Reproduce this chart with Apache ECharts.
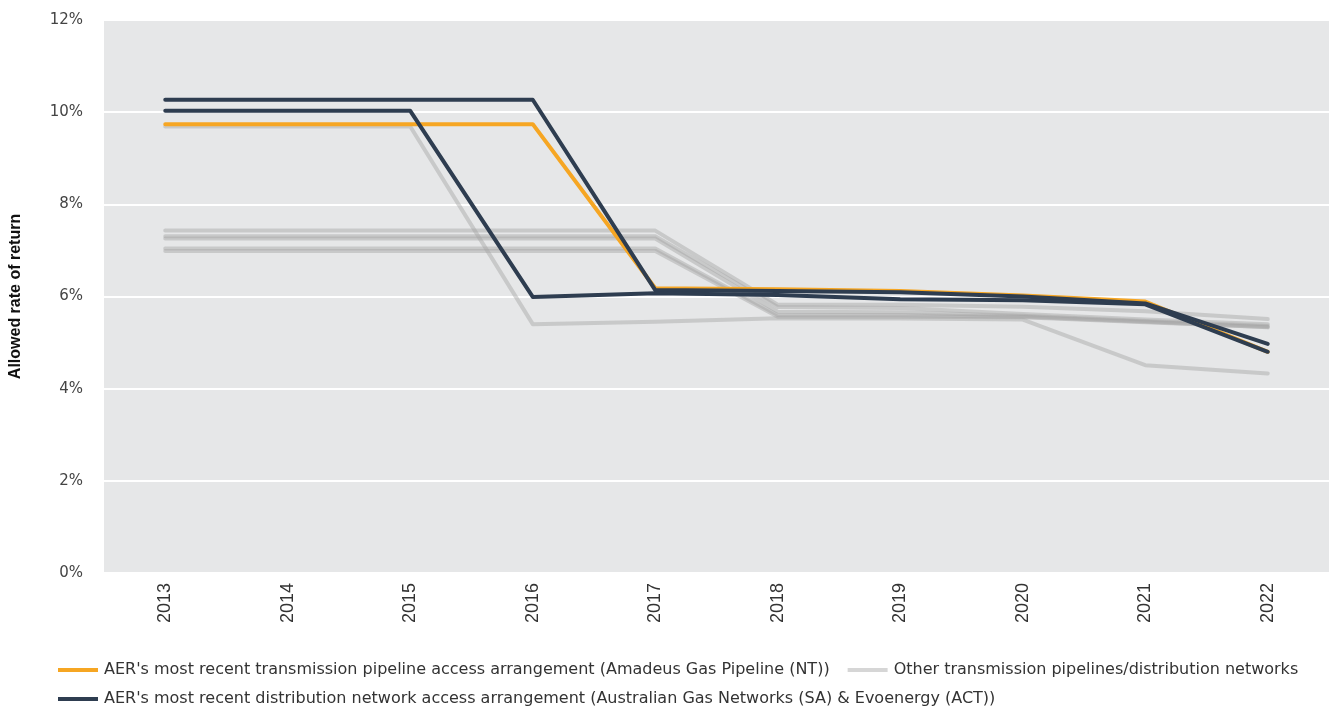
<!DOCTYPE html>
<html>
<head>
<meta charset="utf-8">
<script src="https://cdn.jsdelivr.net/npm/echarts@6/dist/echarts.min.js"></script>
<style>
  html, body { margin: 0; padding: 0; background: #ffffff; }
  #chart { width: 1337px; height: 706px; }
</style>
</head>
<body>
<div id="chart"></div>
<script>
// Allowed rate of return by year (%)
const years = ['2013', '2014', '2015', '2016', '2017', '2018', '2019', '2020', '2021', '2022'];

const yTicks = { min: 0, max: 12, interval: 2 };

const transmissionName = "AER's most recent transmission pipeline access arrangement (Amadeus Gas Pipeline (NT))";
const distributionName = "AER's most recent distribution network access arrangement (Australian Gas Networks (SA) & Evoenergy (ACT))";
const otherName = 'Other transmission pipelines/distribution networks';

// Amadeus Gas Pipeline (NT)
const amadeus = [9.74, 9.74, 9.74, 9.74, 6.18, 6.16, 6.12, 6.02, 5.89, 4.80];

// Australian Gas Networks (SA) and Evoenergy (ACT)
const distributionA = [10.27, 10.27, 10.27, 10.27, 6.14, 6.12, 6.09, 6.00, 5.85, 4.97];
const distributionB = [10.03, 10.03, 10.03, 5.99, 6.07, 6.03, 5.94, 5.92, 5.83, 4.80];

// Other transmission pipelines / distribution networks
const other1 = [9.69, 9.69, 9.69, 5.40, 5.45, 5.53, 5.52, 5.50, 4.51, 4.33];
const other2 = [7.43, 7.43, 7.43, 7.43, 7.43, 5.82, 5.82, 5.78, 5.68, 5.51];
const other3 = [7.31, 7.31, 7.31, 7.31, 7.31, 5.77, 5.75, 5.62, 5.50, 5.40];
const other4 = [7.26, 7.26, 7.26, 7.26, 7.26, 5.67, 5.66, 5.58, 5.47, 5.36];
const other5 = [7.04, 7.04, 7.04, 7.04, 7.04, 5.60, 5.60, 5.56, 5.45, 5.33];
const other6 = [6.99, 6.99, 6.99, 6.99, 6.99, 5.56, 5.56, 5.55, 5.44, 5.34];

const otherSeries = [other1, other2, other3, other4, other5, other6];

const FONT = "'Liberation Sans', Arial, Helvetica, sans-serif";
const WIDE_FONT = "'DejaVu Sans', 'Liberation Sans', Arial, sans-serif";

function lineSeries(name, data, color, opacity, z) {
  return {
    name: name,
    type: 'line',
    data: data,
    symbol: 'none',
    silent: true,
    z: z,
    lineStyle: { color: color, width: 4, opacity: opacity, cap: 'round', join: 'round' },
    itemStyle: { color: color, opacity: opacity }
  };
}

const series = [];
otherSeries.forEach(d => series.push(lineSeries(otherName, d, '#a4a4a4', 0.45, 2)));
series.push(lineSeries(transmissionName, amadeus, '#f6a623', 1, 3));
series.push(lineSeries(distributionName, distributionA, '#2e3d50', 1, 4));
series.push(lineSeries(distributionName, distributionB, '#2e3d50', 1, 4));

const legendIcon = 'path://M0,0 L40,0 L40,4 L0,4 Z';
const legendText = { color: '#333333', fontSize: 16, fontFamily: WIDE_FONT };

const chart = echarts.init(document.getElementById('chart'));
chart.setOption({
  animation: false,
  backgroundColor: '#ffffff',
  grid: {
    left: 103, right: 8, top: 20, bottom: 133,
    show: true, backgroundColor: '#e6e7e8', borderWidth: 0
  },
  legend: [
    {
      data: [transmissionName, otherName],
      left: 53, top: 657,
      itemWidth: 42, itemHeight: 4, itemGap: 18,
      icon: legendIcon,
      textStyle: legendText,
      selectedMode: false
    },
    {
      data: [distributionName],
      left: 53, top: 686,
      itemWidth: 42, itemHeight: 4,
      icon: legendIcon,
      textStyle: legendText,
      selectedMode: false
    }
  ],
  xAxis: {
    type: 'category',
    data: years,
    boundaryGap: true,
    axisLine: { show: false },
    axisTick: { show: false },
    axisLabel: {
      rotate: 90, margin: 10,
      color: '#333333', fontSize: 18, fontFamily: FONT
    },
    splitLine: { show: false }
  },
  yAxis: {
    type: 'value',
    min: yTicks.min, max: yTicks.max, interval: yTicks.interval,
    name: 'Allowed rate of return',
    nameLocation: 'middle',
    nameRotate: 90,
    nameGap: 80,
    nameTextStyle: { color: '#111111', fontSize: 16, fontWeight: 'bold', fontFamily: FONT },
    axisLine: { show: false },
    axisTick: { show: false },
    axisLabel: {
      margin: 21,
      formatter: v => v + '%',
      color: '#444444', fontSize: 15, fontFamily: WIDE_FONT
    },
    splitLine: { show: true, lineStyle: { color: '#ffffff', width: 2 } }
  },
  series: series
});
</script>
</body>
</html>
